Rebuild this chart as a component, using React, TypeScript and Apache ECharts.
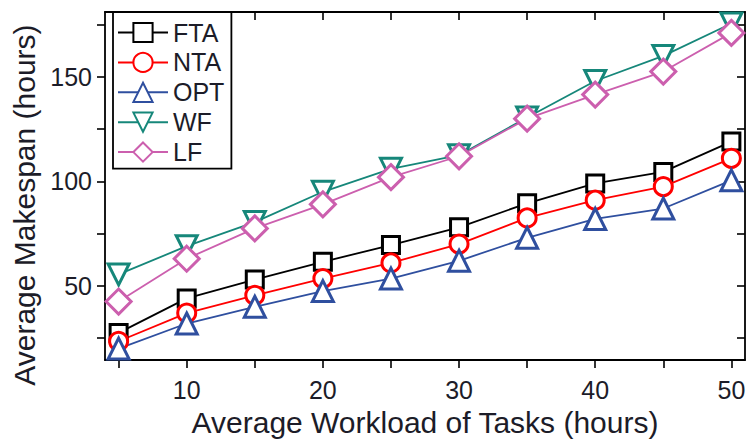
import React, { useEffect, useRef } from "react";
import * as echarts from "echarts";

const workload = [5, 10, 15, 20, 25, 30, 35, 40, 45, 50];
const fta = [27.5, 44, 53, 61.5, 69.5, 78, 89.5, 99, 104.5, 119];
const nta = [23.5, 37, 45.5, 53.5, 61, 70, 82.5, 91, 97.5, 111];
const opt = [20, 32, 40, 47.5, 53.5, 62, 73, 82, 87, 100.5];
const wf = [55.5, 69, 80.5, 95, 106, 112.5, 130.5, 148, 160, 175.5];
const lf = [42.5, 63, 77.5, 89, 102, 112, 130, 141.5, 152.5, 171];

const xTicks = [5, 10, 15, 20, 25, 30, 35, 40, 45, 50];
const xLabels = [10, 20, 30, 40, 50];
const yTicks = [25, 50, 75, 100, 125, 150, 175];
const yLabels = [50, 100, 150];

const FONT = "Liberation Sans, Arial, sans-serif";
const TXT = "#1c1c28";

export default function App() {
  const ref = useRef<HTMLDivElement>(null);
  useEffect(() => {
    if (!ref.current) return;
    const chart = echarts.init(ref.current, undefined, { renderer: "svg" });
    const mk = (name: string, data: number[], color: string, symbol: string, size: number, rotate = 0) => ({
      name,
      type: "line",
      data: workload.map((x, i) => [x, data[i]]),
      color,
      symbol,
      symbolSize: size,
      symbolRotate: rotate,
      lineStyle: { color, width: 1.8 },
      itemStyle: { color: "#fff", borderColor: color, borderWidth: 3 },
      xAxisIndex: 0,
      yAxisIndex: 0,
      z: 3,
    });
    const axisLine = { show: true, onZero: false, lineStyle: { color: "#000", width: 1.8 } };
    chart.setOption({
      animation: false,
      backgroundColor: "#fff",
      grid: { left: 105, right: 4, top: 12, bottom: 78, containLabel: false },
      legend: {
        orient: "vertical",
        left: 113,
        top: 12,
        padding: [8, 7, 4, 4],
        itemGap: 4.9,
        itemWidth: 50,
        itemHeight: 24,
        borderColor: "#000",
        borderWidth: 1.8,
        borderRadius: 0,
        backgroundColor: "#fff",
        textStyle: { fontSize: 25, lineHeight: 24, color: TXT, fontFamily: FONT },
        data: ["FTA", "NTA", "OPT", "WF", "LF"],
      },
      xAxis: [
        {
          type: "value",
          min: 4,
          max: 51,
          position: "bottom",
          name: "Average Workload of Tasks (hours)",
          nameLocation: "middle",
          nameGap: 46,
          nameTextStyle: { fontSize: 30, color: TXT, fontFamily: FONT },
          axisLine,
          axisTick: { show: true, inside: false, length: 8, customValues: xTicks, lineStyle: { color: "#000", width: 1.6 } },
          axisLabel: { show: true, customValues: xLabels, fontSize: 25, color: TXT, fontFamily: FONT, margin: 17 },
          splitLine: { show: false },
        },
        {
          type: "value",
          min: 4,
          max: 51,
          position: "top",
          axisLine,
          axisTick: { show: true, inside: true, length: 8, customValues: xTicks, lineStyle: { color: "#000", width: 1.6 } },
          axisLabel: { show: false },
          splitLine: { show: false },
        },
      ],
      yAxis: [
        {
          type: "value",
          min: 14.5,
          max: 181,
          position: "left",
          name: "Average Makespan (hours)",
          nameLocation: "middle",
          nameGap: 60,
          nameTextStyle: { fontSize: 30, color: TXT, fontFamily: FONT, padding: [0, 38, 0, 0] },
          axisLine,
          axisTick: { show: true, inside: false, length: 8, customValues: yTicks, lineStyle: { color: "#000", width: 1.6 } },
          axisLabel: { show: true, customValues: yLabels, fontSize: 25, color: TXT, fontFamily: FONT, margin: 13 },
          splitLine: { show: false },
        },
        {
          type: "value",
          min: 14.5,
          max: 181,
          position: "right",
          axisLine,
          axisTick: { show: true, inside: true, length: 8, customValues: yTicks, lineStyle: { color: "#000", width: 1.6 } },
          axisLabel: { show: false },
          splitLine: { show: false },
        },
      ],
      series: [
        mk("FTA", fta, "#000000", "rect", 17),
        mk("NTA", nta, "#ff0000", "circle", 18),
        mk("OPT", opt, "#2f4f9f", "triangle", 21),
        mk("WF", wf, "#16877a", "triangle", 21, 180),
        mk("LF", lf, "#cc5fae", "diamond", 25),
      ],
    });
    return () => chart.dispose();
  }, []);
  return <div ref={ref} style={{ position: "absolute", left: 0, top: 0, width: 749, height: 442 }} />;
}
